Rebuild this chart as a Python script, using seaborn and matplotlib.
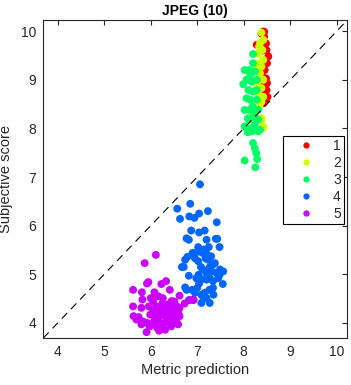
import numpy as np
import pandas as pd
import seaborn as sns
import matplotlib.pyplot as plt

# group 1 (red)
x1 = [8.42, 8.44, 8.48, 8.49, 8.53, 8.50, 8.45, 8.48, 8.50, 8.49, 8.51, 8.48, 8.41,
      8.40, 8.42, 8.44, 8.38, 8.43, 8.28, 8.38, 8.44]
y1 = [9.99, 9.89, 9.75, 9.61, 9.48, 9.34, 9.20, 9.03, 8.93, 8.79, 8.65, 8.59, 8.52,
      9.60, 9.30, 8.90, 9.10, 8.70, 9.72, 9.95, 9.99]
# group 2 (yellow-green)
x2 = [8.38, 8.35, 8.40, 8.31, 8.42, 8.28, 8.38, 8.35, 8.42, 8.28, 8.38, 8.42, 8.36,
      8.33, 8.42, 8.38, 8.28, 8.33, 8.42, 8.25, 8.31, 8.38, 8.38, 8.42]
y2 = [9.97, 9.75, 9.61, 9.54, 9.41, 9.34, 9.27, 9.13, 9.00, 8.93, 8.83, 8.65, 8.52,
      8.45, 8.04, 8.21, 8.18, 9.68, 9.82, 9.20, 8.72, 8.55, 8.17, 8.02]
# group 3 (green)
x3 = [8.20, 8.20, 8.02, 8.12, 8.24, 7.99, 8.17, 8.28, 8.10, 8.20, 8.06, 8.14, 8.28,
      8.02, 8.13, 8.24, 8.09, 8.20, 8.31, 8.02, 8.13, 8.24, 8.09, 8.35, 8.20, 8.24,
      8.27, 8.29, 8.02, 8.25, 8.17, 8.31, 8.06, 8.14, 8.28, 8.19, 8.31, 8.11]
y3 = [9.53, 9.34, 9.20, 9.20, 9.17, 8.91, 8.96, 9.00, 8.79, 8.76, 8.62, 8.59, 8.59,
      8.38, 8.38, 8.31, 8.21, 8.24, 8.18, 8.04, 8.00, 8.07, 7.92, 7.97, 7.70, 7.59,
      7.49, 7.37, 7.34, 7.20, 7.94, 7.94, 9.00, 9.10, 8.79, 8.45, 8.38, 8.18]
# group 4 (blue)
x4 = [7.06, 6.57, 6.85, 7.23, 6.63, 6.83, 6.94, 7.04, 7.42, 6.87, 7.04, 7.16, 6.82,
      6.77, 7.40, 7.43, 7.48, 7.02, 7.25, 7.00, 7.11, 7.20, 6.79, 6.74, 6.95, 7.18,
      7.02, 7.38, 7.34, 6.67, 6.71, 7.08, 7.27, 7.49, 7.56, 7.31, 7.03, 6.82, 7.20,
      7.41, 7.48, 7.10, 7.20, 7.27, 7.04, 7.34, 7.55, 6.74, 6.89, 6.77, 7.00, 7.26,
      7.16, 7.09, 7.35, 7.12, 6.92, 6.82, 7.09, 7.27, 7.20, 6.90, 7.30, 7.14, 7.23,
      7.12, 6.98, 7.34, 7.45, 6.95, 7.20]
y4 = [6.85, 6.35, 6.45, 6.30, 6.14, 6.19, 6.16, 6.25, 6.07, 5.90, 5.86, 5.90, 5.71,
      5.74, 5.73, 5.73, 5.56, 5.56, 5.56, 5.46, 5.44, 5.42, 5.36, 5.30, 5.33, 5.33,
      5.27, 5.23, 5.20, 5.15, 5.15, 5.15, 5.15, 5.10, 5.06, 5.06, 4.99, 4.97, 5.03,
      5.03, 4.99, 4.90, 4.89, 4.92, 4.81, 4.86, 4.80, 4.73, 4.68, 4.68, 4.72, 4.68,
      4.62, 4.58, 4.58, 4.55, 4.48, 4.47, 4.41, 4.41, 4.51, 5.44, 5.37, 5.51, 5.30,
      5.10, 4.92, 4.72, 4.92, 4.62, 5.71]
# group 5 (magenta)
x5 = [6.11, 5.87, 5.95, 5.92, 6.33, 6.23, 5.62, 5.81, 6.08, 6.41, 6.62, 6.00, 6.16,
      5.82, 6.26, 6.73, 6.85, 6.92, 6.51, 5.62, 5.80, 5.96, 6.12, 6.26, 6.37, 6.44,
      6.56, 6.62, 6.18, 6.32, 6.46, 6.59, 5.63, 5.74, 5.99, 6.09, 6.23, 6.35, 6.48,
      6.62, 5.83, 5.92, 6.07, 6.18, 6.30, 6.43, 6.55, 5.98, 6.14, 6.31, 6.44, 5.91,
      5.69, 5.80, 6.59, 6.23, 6.05, 6.38, 6.18, 6.28, 6.40, 6.15, 6.35, 6.50, 6.45,
      6.25, 6.05, 6.10]
y5 = [5.40, 5.23, 4.84, 4.81, 4.86, 4.80, 4.68, 4.63, 4.63, 4.68, 4.56, 4.51, 4.55,
      4.48, 4.51, 4.40, 4.47, 4.47, 4.44, 4.34, 4.31, 4.34, 4.34, 4.34, 4.38, 4.31,
      4.34, 4.31, 4.24, 4.24, 4.21, 4.21, 4.14, 4.12, 4.17, 4.14, 4.15, 4.14, 4.10,
      4.14, 4.03, 4.00, 4.03, 4.01, 4.00, 4.00, 4.03, 3.93, 3.90, 3.86, 3.93, 3.81,
      4.07, 3.97, 3.97, 3.93, 4.24, 4.07, 3.84, 4.27, 4.20, 4.10, 4.05, 4.30, 4.45,
      4.40, 4.45, 3.98]

groups = ['1', '2', '3', '4', '5']
colors = ['#ff0000', '#ccff00', '#00ff66', '#0066ff', '#cc00ff']
lims = (3.69, 10.22)

df = pd.concat([
    pd.DataFrame({'pred': x, 'score': y, 'group': g})
    for x, y, g in zip([x1, x2, x3, x4, x5], [y1, y2, y3, y4, y5], groups)
], ignore_index=True)

sns.set_style('white')
plt.rcParams['font.family'] = ['Liberation Sans', 'DejaVu Sans']
dark = '#262626'

fig = plt.figure(figsize=(3.51, 3.85), dpi=100)
ax = fig.add_axes([0.1234, 0.1221, 0.865, 0.8247])

sns.scatterplot(data=df, x='pred', y='score', hue='group', hue_order=groups,
                palette=colors, s=32, edgecolor='none', linewidth=0, ax=ax)
ax.plot(lims, lims, color='black', linestyle=(0, (7, 5)), linewidth=0.8)

ax.set_xlim(lims)
ax.set_ylim(lims)
ax.set_xticks(range(4, 11))
ax.set_yticks(range(4, 11))
ax.tick_params(direction='in', length=3.5, width=0.8, top=True, right=True,
               labelsize=10, colors=dark, labelcolor=dark, pad=5)
for sp in ax.spines.values():
    sp.set_color(dark)
    sp.set_linewidth(0.8)

ax.set_title('JPEG (10)', fontsize=10, fontweight='bold', color='black', pad=4)
ax.set_xlabel('Metric prediction', fontsize=10.5, color=dark, labelpad=3)
ax.set_ylabel('Subjective score', fontsize=10.5, color=dark, labelpad=6)

handles, labels = ax.get_legend_handles_labels()
leg = ax.legend(handles, labels, loc='upper right', bbox_to_anchor=(0.99, 0.636),
                borderaxespad=0, fontsize=10, frameon=True, fancybox=False,
                framealpha=1, edgecolor='black', handletextpad=0.5,
                borderpad=0.22, labelspacing=0.22, handlelength=2.9,
                markerscale=0.8)
leg.get_frame().set_linewidth(0.8)

fig.savefig('out.png', dpi=100)
